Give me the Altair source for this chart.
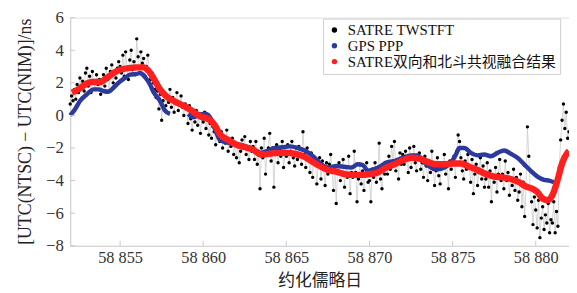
import altair as alt
import pandas as pd

# ---- SATRE TWSTFT (black dots), sampled every 2 h from MJD 58852.0 ----
twstft_start = 58852.0
twstft_step = 1.0 / 12.0
twstft_vals = [
    0.7, 1.2, 0.9, 1.6, 1.0, 1.9, 1.4, 2.3, 1.7, 2.1, 1.5, 2.6,            # 58852
    2.9, 1.8, 2.4, 1.4, 2.7, 2.0, 1.6, 2.5, 1.9, 2.2, 1.3, 2.1,            # 58853
    2.5, 1.8, 2.9, 2.2, 1.5, 2.7, 3.1, 2.0, 2.6, 2.3, 2.9, 3.3,            # 58854
    3.0, 2.6, 3.7, 2.4, 3.9, 2.9, 2.2, 3.4, 4.0, 2.8, 3.3, 2.5,            # 58855
    4.7, 3.6, 2.6, 3.9, 3.2, 3.5, 2.4, 3.0, 3.7, 2.8, 2.2, 2.6,            # 58856
    2.0, 1.6, 1.1, 1.5, 0.4, 1.3, -0.3, 0.9, 1.4, 0.6, 1.1, 0.8,           # 58857
    1.6, 0.5, 1.1, 0.2, 0.9, 1.4, 0.3, 0.8, 1.2, 0.5, 0.0, 0.7,            # 58858
    0.4, -0.5, 0.6, -0.2, -0.9, 0.2, -0.4, 0.3, -0.6, 0.1, -1.1, -0.2,     # 58859
    -0.4, 0.2, -0.8, -0.3, -1.2, -0.5, -1.4, -0.7, -1.0, -1.8, -0.9, -1.3, # 58860
    -1.6, -1.0, -2.0, -1.3, -1.7, -0.9, -2.2, -1.5, -1.9, -1.4, -2.4, -1.7, # 58861
    -2.6, -1.8, -2.9, -2.2, -1.5, -2.0, -1.3, -2.4, -1.9, -2.7, -1.6, -2.2, # 58862
    -1.9, -2.7, -1.6, -3.0, -2.2, -4.5, -2.0, -2.6, -1.4, -3.6, -2.3, -2.0, # 58863
    -1.1, -2.8, -2.0, -4.4, -2.4, -1.8, -2.9, -2.1, -2.5, -1.6, -3.2, -2.2, # 58864
    -2.5, -1.8, -2.9, -2.2, -1.6, -2.6, -3.1, -2.0, -2.7, -1.9, -2.4, -3.0, # 58865
    -1.0, -2.4, -3.2, -2.0, -2.7, -3.5, -2.3, -3.8, -2.6, -3.0, -4.2, -2.8, # 58866
    -2.6, -3.9, -2.8, -3.3, -4.3, -2.9, -3.6, -3.0, -2.4, -3.5, -4.6, -3.2, # 58867
    -5.4, -3.4, -2.9, -4.0, -3.6, -2.7, -4.4, -3.2, -3.8, -2.5, -4.8, -3.5, # 58868
    -3.8, -2.2, -3.5, -5.3, -3.9, -3.0, -4.2, -3.4, -4.6, -3.6, -2.9, -4.1, # 58869
    -4.0, -5.3, -3.3, -3.8, -2.9, -4.1, -3.5, -1.7, -3.9, -4.5, -3.1, -3.6, # 58870
    -3.1, -3.6, -2.5, -3.3, -1.9, -2.8, -1.6, -3.4, -2.7, -3.9, -2.3, -3.0, # 58871
    -2.4, -3.0, -2.2, -2.7, -3.5, -2.0, -3.2, -2.6, -1.9, -2.9, -3.4, -2.5, # 58872
    -2.3, -3.3, -2.9, -3.8, -2.5, -3.1, -4.0, -2.8, -3.5, -2.2, -3.3, -4.3, # 58873
    -3.4, -2.6, -3.7, -4.2, -2.9, -3.2, -2.4, -3.6, -3.0, -4.5, -2.8, -3.3, # 58874
    -3.0, -2.5, -3.8, -2.2, -1.2, -1.6, -2.6, -3.4, -3.9, -2.8, -3.3, -2.4, # 58875
    -3.2, -4.1, -2.7, -4.8, -3.6, -3.0, -4.3, -3.5, -2.6, -3.9, -3.1, -4.4, # 58876
    -3.9, -2.9, -4.4, -3.4, -5.3, -3.7, -4.1, -3.2, -4.7, -3.6, -2.7, -4.0, # 58877
    -3.6, -4.5, -2.8, -4.0, -3.5, -4.9, -3.9, -4.3, -3.3, -4.6, -3.8, -5.2, # 58878
    -4.7, -3.6, -5.6, -4.1, -6.2, -4.4, -0.7, -2.5, -4.5, -5.3, -6.7, -5.0, # 58879
    -5.8, -6.9, -5.2, -7.5, -6.3, -5.6, -7.0, -6.1, -6.6, -5.4, -7.2, -6.4, # 58880
    -6.6, -5.3, -7.2, -5.9, -6.8, -3.2, -1.5, -0.3, 0.7, -0.8, 0.2, -1.4,  # 58881
    -1.0,                                                                  # 58882
]
twstft_mjd = [twstft_start + i * twstft_step for i in range(len(twstft_vals))]

# ---- GPS PPP (blue) ----
ppp_mjd = [
    58852.0, 58852.3, 58852.6, 58853.0, 58853.4, 58853.7, 58854.0, 58854.3,
    58854.6, 58854.9, 58855.3, 58855.6, 58856.0, 58856.2, 58856.5, 58856.8,
    58857.0, 58857.4, 58857.7, 58858.0,
    58859.1, 58859.4, 58859.8, 58860.1, 58860.4, 58860.7, 58861.0, 58861.6,
    58862.2, 58862.8, 58863.3, 58863.8, 58864.3, 58864.8, 58865.2, 58865.7,
    58866.1, 58866.6, 58867.0, 58867.5, 58868.0, 58868.5, 58868.9, 58869.3,
    58869.6, 58869.9, 58870.3, 58870.7, 58871.0, 58871.5, 58872.0, 58872.5,
    58872.9, 58873.3, 58873.7, 58874.1, 58874.5, 58874.9, 58875.2, 58875.4,
    58875.7, 58876.1, 58876.5, 58876.9, 58877.3, 58877.7, 58878.1, 58878.5,
    58878.9, 58879.3, 58879.7, 58880.1, 58880.5, 58880.8, 58881.1,
]
ppp_val = [
    0.0, 0.4, 0.9, 1.3, 1.6, 1.6, 1.5, 1.45,
    1.7, 2.0, 2.3, 2.5, 2.55, 2.6, 2.35, 1.9,
    1.45, 0.9, 0.3, 0.1,
    0.1, -0.1, 0.05, 0.1, -0.1, -0.8, -1.5, -1.7,
    -1.8, -2.0, -2.3, -2.2, -2.0, -1.95, -1.9, -2.0,
    -2.15, -2.5, -2.9, -3.2, -3.1, -3.15, -3.2, -3.0,
    -3.05, -3.4, -3.3, -3.1, -2.9, -2.8, -2.6, -2.45,
    -2.45, -2.9, -3.2, -3.3, -3.2, -2.9, -2.4, -2.0,
    -2.0, -2.3, -2.45, -2.4, -2.5, -2.3, -2.15, -2.35,
    -2.6, -3.0, -3.4, -3.75, -3.95, -4.0, -4.1,
]
ppp_seg = [1] * 20 + [2] * 55

# ---- SATRE TWSTFT + BDS CV fused result (red) ----
fused_mjd = [
    58852.1, 58852.5, 58852.9, 58853.3, 58853.8, 58854.2, 58854.6, 58855.0,
    58855.5, 58856.0, 58856.4, 58856.7, 58857.0, 58857.4, 58857.8, 58858.3,
    58858.8, 58859.3, 58859.8, 58860.3, 58860.7, 58861.0, 58861.5, 58862.0,
    58862.5, 58863.0, 58863.5, 58864.0, 58864.5, 58865.0, 58865.5, 58866.0,
    58866.5, 58867.0, 58867.5, 58868.0, 58868.5, 58869.0, 58869.5, 58870.0,
    58870.5, 58871.0, 58871.5, 58872.0, 58872.5, 58873.0, 58873.5, 58874.0,
    58874.5, 58875.0, 58875.5, 58876.0, 58876.5, 58877.0, 58877.5, 58878.0,
    58878.5, 58879.0, 58879.4, 58879.8, 58880.1, 58880.4, 58880.7, 58881.0,
    58881.3, 58881.6, 58881.9, 58882.0,
]
fused_val = [
    1.4, 1.6, 1.9, 2.05, 2.05, 2.3, 2.6, 2.8,
    2.9, 2.95, 2.95, 2.75, 2.3, 1.6, 1.15, 0.85,
    0.6, 0.3, -0.05, -0.2, -0.6, -1.15, -1.5, -1.8,
    -1.95, -2.1, -2.4, -2.35, -2.3, -2.3, -2.35, -2.5,
    -2.8, -3.1, -3.35, -3.45, -3.6, -3.65, -3.65, -3.6,
    -3.5, -3.2, -3.0, -2.75, -2.6, -2.65, -2.85, -3.0,
    -3.0, -2.95, -2.95, -3.15, -3.35, -3.6, -3.75, -3.8,
    -3.9, -4.1, -4.35, -4.5, -4.7, -5.1, -5.2, -4.9,
    -4.0, -2.9, -2.3, -2.2,
]

series_names = ["SATRE TWSTFT", "GPS PPP", "SATRE双向和北斗共视融合结果"]
series_colors = ["#000000", "#2b3a9c", "#ff1f1f"]
x_ticks = [58855, 58860, 58865, 58870, 58875, 58880]
y_ticks = [-8, -6, -4, -2, 0, 2, 4, 6]

df_tw = pd.DataFrame({"mjd": twstft_mjd, "val": twstft_vals, "series": series_names[0]})
df_ppp = pd.DataFrame({"mjd": ppp_mjd, "val": ppp_val, "seg": ppp_seg})
df_fused = pd.DataFrame({"mjd": fused_mjd, "val": fused_val})
df_xt = pd.DataFrame({"mjd": x_ticks})
df_yt = pd.DataFrame({"val": y_ticks})

serif = "'Liberation Serif', 'Times New Roman', serif"
mixed = "'Liberation Serif', 'Noto Sans CJK SC'"
xscale = alt.Scale(domain=[58852, 58882], nice=False, zero=False)
yscale = alt.Scale(domain=[-8, 6], nice=False)

x_axis = alt.Axis(
    values=x_ticks, ticks=False, grid=False, title="约化儒略日",
    labelExpr="replace(format(datum.value, ',d'), ',', ' ')",
    labelFont=serif, labelFontSize=16.5, labelColor="#333", labelPadding=4,
    labelOverlap=False,
    titleFont="Noto Sans CJK SC", titleFontSize=17, titleFontWeight="normal",
    titleColor="#222", titlePadding=7, domainColor="#cfcfcf",
)
y_axis = alt.Axis(
    values=y_ticks, ticks=False, grid=False, format="d",
    title="[UTC(NTSC) − UTC(NIM)]/ns",
    labelFont=serif, labelFontSize=17, labelColor="#333", labelPadding=7,
    labelOverlap=False,
    titleFont=serif, titleFontSize=18, titleFontWeight="normal",
    titleColor="#222", titleX=-45, titleY=115, titleAngle=-90,
    titleBaseline="middle", titleAlign="center", domainColor="#cfcfcf",
)
X = lambda: alt.X("mjd:Q", scale=xscale, axis=x_axis)
Y = lambda: alt.Y("val:Q", scale=yscale, axis=y_axis)

tw_line = alt.Chart(df_tw).mark_line(color="#c4c4c4", strokeWidth=0.7).encode(x=X(), y=Y())
tw_pts = alt.Chart(df_tw).mark_circle(size=12, opacity=1).encode(
    x=X(), y=Y(),
    color=alt.Color(
        "series:N",
        scale=alt.Scale(domain=series_names, range=series_colors),
        legend=alt.Legend(
            title=None, orient="none", legendX=256, legendY=1,
            labelFont=mixed, labelFontSize=15, labelColor="#111",
            symbolType="circle", symbolSize=30, symbolStrokeWidth=0,
            rowPadding=0, padding=4, labelOffset=6,
            strokeColor="#cfcfcf", fillColor="white", labelLimit=400,
        ),
    ),
)
ppp_line = alt.Chart(df_ppp).mark_line(
    color=series_colors[1], strokeWidth=4.5, interpolate="monotone"
).encode(x=X(), y=Y(), detail="seg:N")
fused_line = alt.Chart(df_fused).mark_line(
    color=series_colors[2], strokeWidth=6.5, interpolate="monotone"
).encode(x=X(), y=Y())

xt = alt.Chart(df_xt).mark_rule(color="#c8c8c8", strokeWidth=1).encode(
    x=X(), y=alt.value(231), y2=alt.value(226)
)
yt = alt.Chart(df_yt).mark_rule(color="#c8c8c8", strokeWidth=1).encode(
    y=Y(), x=alt.value(0), x2=alt.value(5)
)

chart = alt.layer(tw_line, tw_pts, ppp_line, fused_line, xt, yt).properties(
    width=505, height=231,
    padding={"left": 63, "top": 8, "right": 0, "bottom": 45},
    autosize=alt.AutoSizeParams(type="none"),
).configure_view(stroke="#dcdcdc", strokeWidth=1).configure(background="white")

chart.save("out.html", embed_options={"renderer": "svg", "actions": False})
